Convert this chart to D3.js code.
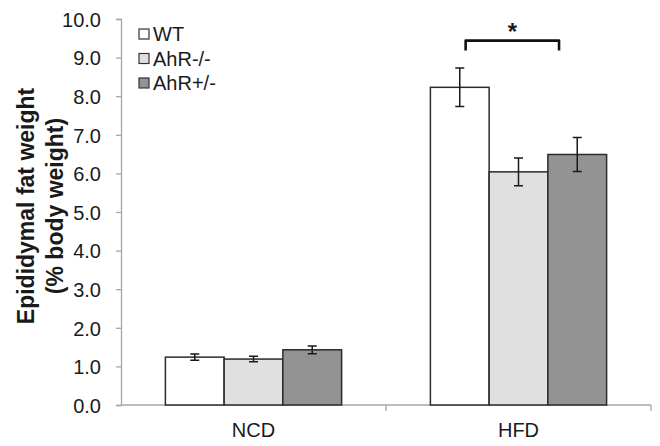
<!DOCTYPE html>
<html>
<head>
<meta charset="utf-8">
<script src="https://cdn.jsdelivr.net/npm/d3@7"></script>
<style>
    body { margin: 0; background: #fff; }
    text { font-family: Arial, "Liberation Sans", sans-serif; fill: #1a1a1a; }
    .axis path, .axis line { stroke: #a6a6a6; stroke-width: 1.3; }
    .bar { stroke: #2b2b2b; stroke-width: 1.5; }
    .errBar { stroke: #1a1a1a; stroke-width: 1.5; fill: none; }
</style>
</head>
<body>
<script>
(function(){

//categories and series
var groups = ["NCD", "HFD"];
var seriesNames = ["WT", "AhR-/-", "AhR+/-"];
var seriesColors = ["#ffffff", "#e0e0e0", "#939393"];

//mean values per series (NCD, HFD)
var wtValues = [1.24, 8.23];
var ahrKoValues = [1.19, 6.04];
var ahrHetValues = [1.43, 6.49];

//error (+/-) per series
var wtErrors = [0.08, 0.50];
var ahrKoErrors = [0.07, 0.36];
var ahrHetErrors = [0.10, 0.44];

var yTicks = [0, 1, 2, 3, 4, 5, 6, 7, 8, 9, 10];

function setChart(){
    var width = 660,
        height = 446,
        margin = {top: 19, right: 9, bottom: 41, left: 121};

    var svg = d3.select("body")
        .append("svg")
        .attr("width", width)
        .attr("height", height);

    //scales
    var x0 = d3.scaleBand()
        .domain(groups)
        .range([margin.left, width - margin.right]);

    var groupWidth = x0.bandwidth() * 0.665;

    var x1 = d3.scaleBand()
        .domain(seriesNames)
        .range([0, groupWidth]);

    var y = d3.scaleLinear()
        .domain([0, 10])
        .range([height - margin.bottom, margin.top]);

    var color = d3.scaleOrdinal()
        .domain(seriesNames)
        .range(seriesColors);

    //build data rows from arrays
    var valueArrays = [wtValues, ahrKoValues, ahrHetValues];
    var errorArrays = [wtErrors, ahrKoErrors, ahrHetErrors];
    var rows = [];
    groups.forEach(function(g, gi){
        seriesNames.forEach(function(s, si){
            rows.push({group: g, series: s, value: valueArrays[si][gi], err: errorArrays[si][gi]});
        });
    });

    function barX(d){
        return x0(d.group) + (x0.bandwidth() - groupWidth) / 2 + x1(d.series);
    };

    //y axis
    var yAxis = svg.append("g")
        .attr("class", "axis")
        .attr("transform", "translate(" + margin.left + ",0)")
        .call(d3.axisLeft(y)
            .tickValues(yTicks)
            .tickSize(5)
            .tickPadding(15)
            .tickFormat(d3.format(".1f")));
    yAxis.selectAll("text")
        .style("font-size", "20px")
        .attr("dy", "0.36em");

    //x axis with ticks between groups
    var xAxis = svg.append("g")
        .attr("class", "axis")
        .attr("transform", "translate(0," + y(0) + ")");
    xAxis.append("line")
        .attr("x1", margin.left)
        .attr("x2", width - margin.right);
    var edges = [x0(groups[0]) + x0.bandwidth(), width - margin.right];
    xAxis.selectAll(".tk")
        .data(edges)
        .enter()
        .append("line")
        .attr("x1", function(d){ return d; })
        .attr("x2", function(d){ return d; })
        .attr("y1", 0)
        .attr("y2", 6);
    xAxis.selectAll(".xlab")
        .data(groups)
        .enter()
        .append("text")
        .attr("x", function(d){ return x0(d) + x0.bandwidth() / 2; })
        .attr("y", 32)
        .attr("text-anchor", "middle")
        .style("font-size", "20px")
        .text(function(d){ return d; });

    //bars
    svg.selectAll(".bar")
        .data(rows)
        .enter()
        .append("rect")
        .attr("class", "bar")
        .attr("x", barX)
        .attr("width", x1.bandwidth())
        .attr("y", function(d){ return y(d.value); })
        .attr("height", function(d){ return y(0) - y(d.value); })
        .style("fill", function(d){ return color(d.series); });

    //error bars
    var capHalf = 4.5;
    var errs = svg.selectAll(".errBar")
        .data(rows)
        .enter()
        .append("path")
        .attr("class", "errBar")
        .attr("d", function(d){
            var cx = barX(d) + x1.bandwidth() / 2,
                top = y(d.value + d.err),
                bot = y(d.value - d.err);
            return "M" + (cx - capHalf) + "," + top + "H" + (cx + capHalf) +
                "M" + cx + "," + top + "V" + bot +
                "M" + (cx - capHalf) + "," + bot + "H" + (cx + capHalf);
        });

    //significance bracket between WT and AhR+/- in HFD
    var hfdLeft = x0("HFD") + (x0.bandwidth() - groupWidth) / 2;
    var bx1 = hfdLeft + x1("WT") + x1.bandwidth() * 0.6,
        bx2 = hfdLeft + x1("AhR+/-") + x1.bandwidth() * 0.19,
        by = y(9.44);
    svg.append("path")
        .attr("d", "M" + bx1 + "," + (by + 10) + "V" + by + "H" + bx2 + "V" + (by + 10))
        .style("fill", "none")
        .style("stroke", "#111")
        .style("stroke-width", 2.6)
        .style("stroke-linejoin", "round");
    svg.append("text")
        .attr("x", (bx1 + bx2) / 2)
        .attr("y", by - 1)
        .attr("text-anchor", "middle")
        .style("font-size", "24px")
        .style("font-weight", "bold")
        .text("*");

    //legend
    var legend = svg.selectAll(".legend")
        .data(seriesNames)
        .enter()
        .append("g")
        .attr("class", "legend")
        .attr("transform", function(d, i){
            return "translate(139," + (29 + i * 24.5) + ")";
        });
    legend.append("rect")
        .attr("width", 10)
        .attr("height", 10)
        .style("fill", function(d){ return color(d); })
        .style("stroke", "#333")
        .style("stroke-width", 1.2);
    legend.append("text")
        .attr("x", 14)
        .attr("y", 12)
        .style("font-size", "20px")
        .text(function(d){ return d; });

    //y axis title
    var yTitle = svg.append("text")
        .attr("transform", "translate(0," + ((y(0) + y(10)) / 2 - 6) + ") rotate(-90)")
        .attr("text-anchor", "middle")
        .style("font-size", "23px")
        .style("font-weight", "bold");
    yTitle.append("tspan")
        .attr("x", 0)
        .attr("y", 34)
        .text("Epididymal fat weight");
    yTitle.append("tspan")
        .attr("x", 0)
        .attr("y", 63)
        .text("(% body weight)");
};

setChart();
})();
</script>
</body>
</html>
